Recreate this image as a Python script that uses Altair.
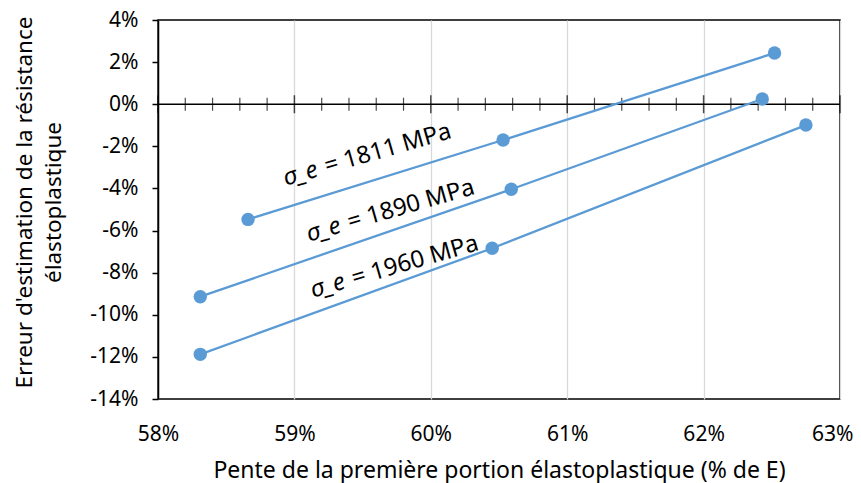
import altair as alt
import pandas as pd

# ---- data ----
series_names = ["1811", "1890", "1960"]
x_1811 = [58.66, 60.53, 62.52]
y_1811 = [-5.47, -1.70, 2.43]
x_1890 = [58.31, 60.59, 62.43]
y_1890 = [-9.14, -4.04, 0.25]
x_1960 = [58.31, 60.45, 62.75]
y_1960 = [-11.88, -6.84, -0.99]

label_sym = ["σ_e", "σ_e", "σ_e"]
label_rest = ["= 1811 MPa", "= 1890 MPa", "= 1960 MPa"]
label_x = [59.21, 59.38, 59.41]
label_y = [-3.36, -6.02, -8.68]

x_ticks = [58, 59, 60, 61, 62, 63]
x_minor = [58.2, 58.4, 58.6, 58.8, 59.2, 59.4, 59.6, 59.8,
           60.2, 60.4, 60.6, 60.8, 61.2, 61.4, 61.6, 61.8,
           62.2, 62.4, 62.6, 62.8]
y_ticks = [-14, -12, -10, -8, -6, -4, -2, 0, 2, 4]

x_title = "Pente de la première portion élastoplastique (% de E)"
y_title = ["Erreur d'estimation de la résistance", "élastoplastique"]

# ---- tables ----
rows = []
for name, xs, ys in zip(series_names, [x_1811, x_1890, x_1960], [y_1811, y_1890, y_1960]):
    for xv, yv in zip(xs, ys):
        rows.append({"series": name, "x": xv, "y": yv})
df = pd.DataFrame(rows)
labels = pd.DataFrame({"x": label_x, "y": label_y, "sym": label_sym, "rest": label_rest})

FONT = "Noto Sans"
BLUE = "#5B9BD5"

xscale = alt.Scale(domain=[58, 63], nice=False, zero=False)
yscale = alt.Scale(domain=[-14, 4], nice=False, zero=False)

last_x = x_ticks[-1]
xaxis = alt.Axis(
    values=x_ticks, labelExpr="datum.value + '%'", grid=True, gridColor="#d9d9d9",
    gridWidth=1.3, ticks=False, tickSize=0, domain=False, labelFlush=False,
    labelAlign={"condition": {"test": f"datum.value == {last_x}", "value": "right"}, "value": "center"},
    labelOffset={"condition": {"test": f"datum.value == {last_x}", "value": 13}, "value": 0},
    labelFont=FONT, labelFontSize=21, labelColor="black", labelPadding=41,
    labelBaseline="alphabetic",
    title=x_title, titleFont=FONT, titleFontSize=23, titleFontWeight="normal",
    titleColor="black", titleY=78, titleBaseline="alphabetic",
)
yaxis = alt.Axis(
    values=y_ticks, labelExpr="datum.value + '%'", grid=False,
    ticks=True, tickSize=6, tickColor="black", tickWidth=1.5,
    domain=True, domainColor="black", domainWidth=1.5,
    labelFont=FONT, labelFontSize=21, labelColor="black", labelPadding=14,
    title=y_title, titleFont=FONT, titleFontSize=22.5, titleFontWeight="normal",
    titleColor="black", titleX=-134, titleY=182, titleAngle=270,
    titleBaseline="middle", titleAlign="center", titleLineHeight=29,
)

X = alt.X("x:Q", scale=xscale, axis=xaxis)
Y = alt.Y("y:Q", scale=yscale, axis=yaxis)

zero = alt.Chart(pd.DataFrame({"y": [0]})).mark_rule(color="black", strokeWidth=1.5).encode(
    y=alt.Y("y:Q", scale=yscale, axis=yaxis)
)
major = alt.Chart(pd.DataFrame({"x": x_ticks})).mark_tick(
    orient="vertical", size=18, thickness=1.5, color="black"
).encode(x=X, y=alt.datum(0))
minor = alt.Chart(pd.DataFrame({"x": x_minor})).mark_tick(
    orient="vertical", size=13, thickness=1.2, color="black"
).encode(x=X, y=alt.datum(0))

lines = alt.Chart(df).mark_line(color=BLUE, strokeWidth=2.3).encode(x=X, y=Y, detail="series:N")
points = alt.Chart(df).mark_circle(size=180, color=BLUE, opacity=1).encode(x=X, y=Y)

sym = alt.Chart(labels).mark_text(
    align="right", baseline="alphabetic", angle=344, font=FONT, fontSize=24,
    fontStyle="italic", color="black", dx=-4
).encode(x=X, y=Y, text="sym:N")
rest = alt.Chart(labels).mark_text(
    align="left", baseline="alphabetic", angle=344, font=FONT, fontSize=24,
    color="black", dx=4
).encode(x=X, y=Y, text="rest:N")

chart = alt.layer(zero, major, minor, lines, points, sym, rest).properties(
    width=682, height=379,
    autosize=alt.AutoSizeParams(type="none"),
    padding={"left": 150, "top": 12, "right": 13, "bottom": 84},
).configure_view(stroke="black", strokeWidth=1.5)

chart.save("out.html", embed_options={"renderer": "svg", "actions": False})
